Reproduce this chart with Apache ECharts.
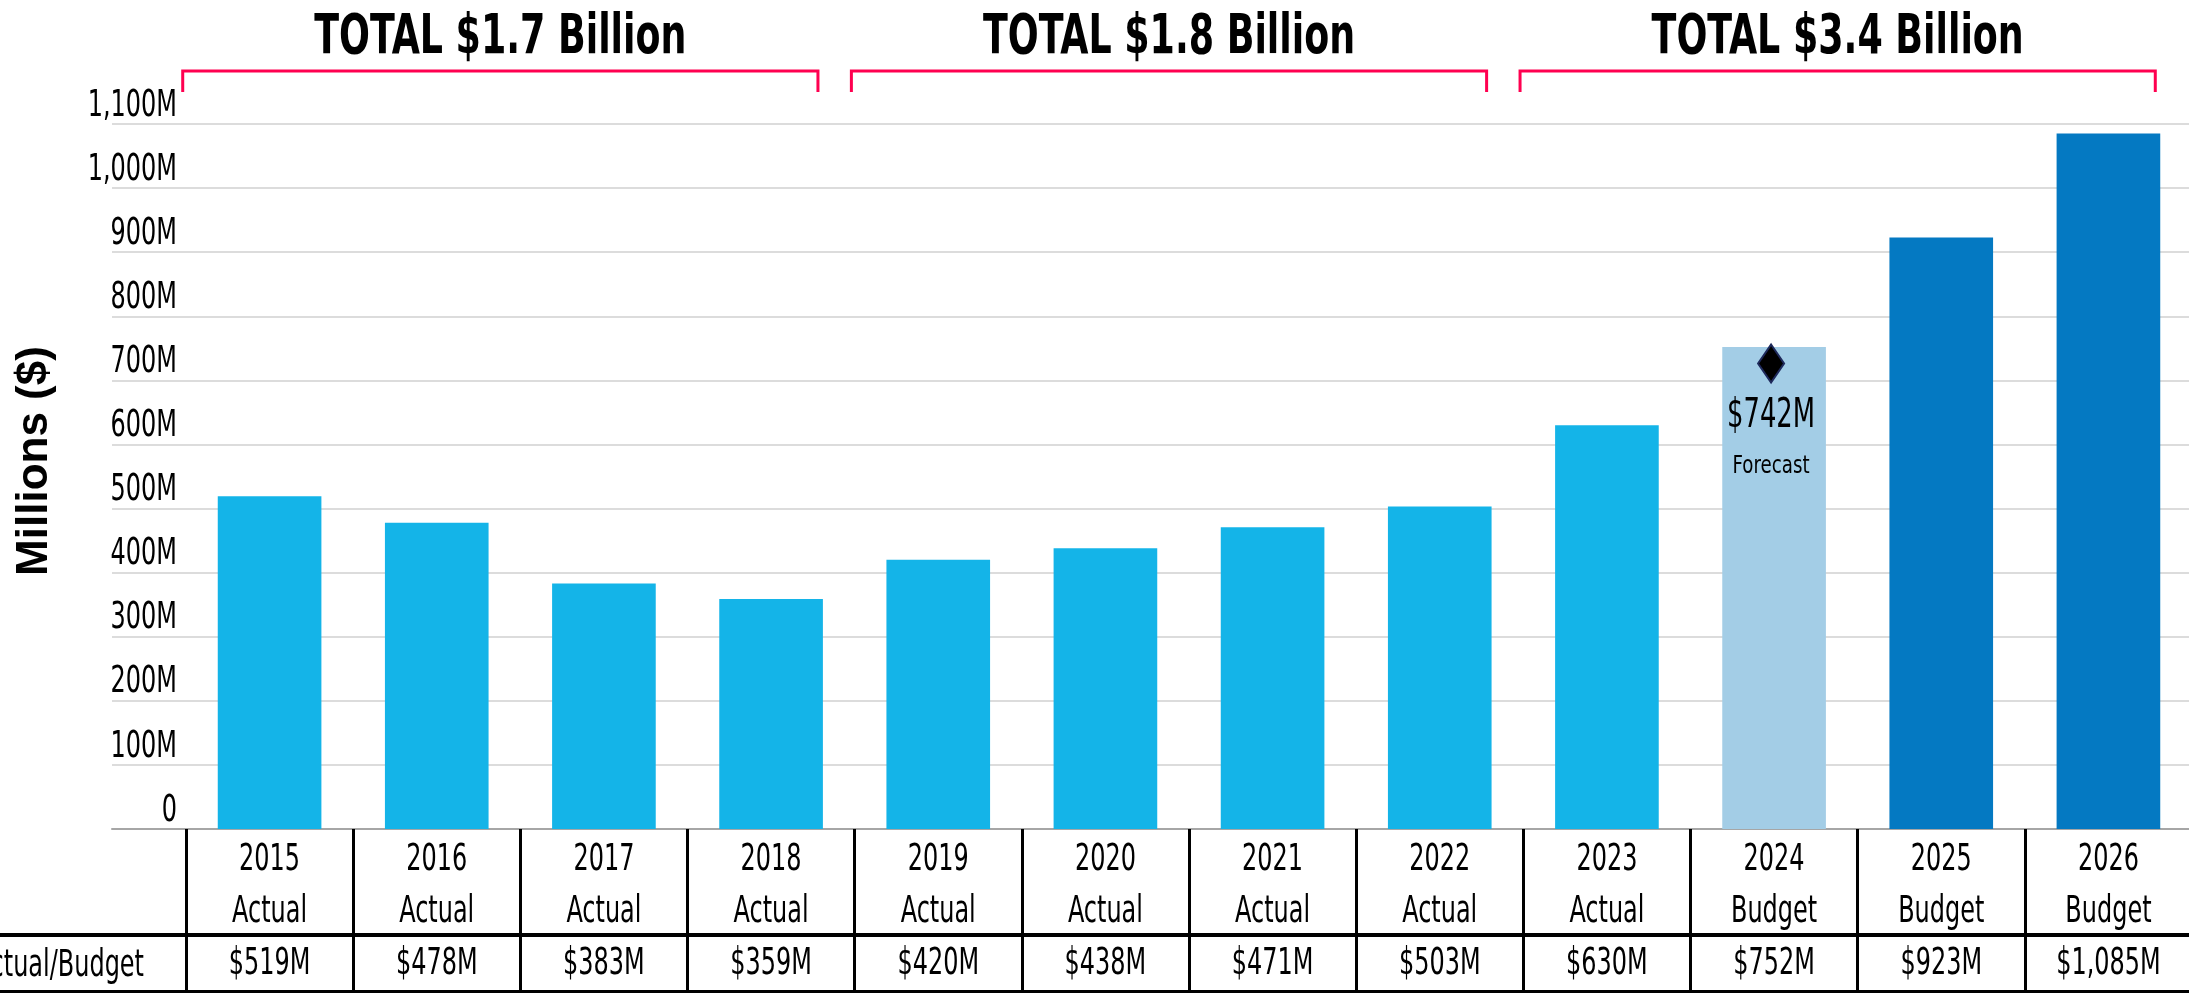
<!DOCTYPE html>
<html>
<head>
<meta charset="utf-8">
<script src="https://cdn.jsdelivr.net/npm/echarts@6/dist/echarts.min.js"></script>
<style>
html, body { margin: 0; padding: 0; background: #fff; }
#main { width: 2189px; height: 994px; }
</style>
</head>
<body>
<div id="main"></div>
<script>
var years = ['2015', '2016', '2017', '2018', '2019', '2020', '2021', '2022', '2023', '2024', '2025', '2026'];
var types = ['Actual', 'Actual', 'Actual', 'Actual', 'Actual', 'Actual', 'Actual', 'Actual', 'Actual', 'Budget', 'Budget', 'Budget'];
var values = [519, 478, 383, 359, 420, 438, 471, 503, 630, 752, 923, 1085];
var forecast = [null, null, null, null, null, null, null, null, null, 742, null, null];
var forecastLabel = 'Forecast';
var yTicks = [0, 100, 200, 300, 400, 500, 600, 700, 800, 900, 1000, 1100];
var groupLabels = ['TOTAL $1.7 Billion', 'TOTAL $1.8 Billion', 'TOTAL $3.4 Billion'];
var groupStart = [0, 4, 8];
var groupEnd = [3, 7, 11];
var rowHeader = 'Actual/Budget';
var yAxisName = 'Millions ($)';

// no condensed web font here, so squeeze DejaVu Condensed with scaleX
var cond = '"DejaVu Sans Condensed", "DejaVu Sans", sans-serif';
var squeeze = 0.72;

function money(v) {
	return '$' + v.toLocaleString('en-US') + 'M';
}

function barColor(i) {
	if (forecast[i] != null) return '#A3CDE6';
	if (types[i] === 'Budget') return '#0479C2';
	return '#14B4E8';
}

function condText(t, x, y, size, sx, align) {
	return {
		type: 'text', x: x, y: y, scaleX: sx,
		style: { text: t, font: size + 'px ' + cond, fill: '#000', align: align || 'center', verticalAlign: 'middle' }
	};
}

var chart = echarts.init(document.getElementById('main'));

option = {
	animation: false,
	grid: [
		{ left: 112, top: 124, width: 2084, height: 705, outerBoundsMode: 'none' },
		{ left: 186, top: 124, width: 2006, height: 705, outerBoundsMode: 'none' }
	],
	xAxis: [
		{
			gridIndex: 0, type: 'value', min: 0, max: 1,
			axisLabel: { show: false }, splitLine: { show: false }, axisTick: { show: false },
			axisLine: { show: true, lineStyle: { color: '#A6A6A6', width: 2 } }
		},
		{
			gridIndex: 1, type: 'category', data: years,
			axisLine: { show: false },
			axisTick: { show: true, length: 163, lineStyle: { color: '#000', width: 3 } },
			axisLabel: { show: false }
		}
	],
	yAxis: [
		{
			gridIndex: 0, type: 'value', min: 0, max: 1100, interval: 100,
			axisLine: { show: false }, axisTick: { show: false }, axisLabel: { show: false },
			splitLine: { lineStyle: { color: '#DCDCDC', width: 2 } }
		},
		{ gridIndex: 1, type: 'value', min: 0, max: 1100, interval: 100, show: false }
	],
	graphic: [
		{ type: 'rect', shape: { x: 0, y: 933, width: 2189, height: 4 }, style: { fill: '#000' } },
		{ type: 'rect', shape: { x: 0, y: 990, width: 2189, height: 3 }, style: { fill: '#000' } },
		condText(rowHeader, 144, 966, 37, squeeze, 'right'),
		{
			type: 'text', x: 35, y: 461, rotation: Math.PI / 2,
			style: { text: yAxisName, font: 'bold 44px "Liberation Sans", sans-serif', fill: '#000', align: 'center', verticalAlign: 'middle' }
		}
	],
	series: [
		{
			type: 'bar', xAxisIndex: 1, yAxisIndex: 1, barWidth: '62%',
			data: values.map(function (v, i) { return { value: v, itemStyle: { color: barColor(i) } }; })
		},
		// y tick labels, sitting above their gridlines
		{
			type: 'custom', xAxisIndex: 0, yAxisIndex: 0, silent: true, z: 5,
			data: yTicks.map(function (v) { return [0, v]; }),
			renderItem: function (params, api) {
				var v = api.value(1);
				var p = api.coord([0, v]);
				var t = v === 0 ? '0' : v.toLocaleString('en-US') + 'M';
				return condText(t, params.coordSys.x + 65, p[1] - 18, 37, squeeze, 'right');
			}
		},
		// data table under the axis
		{
			type: 'custom', xAxisIndex: 1, yAxisIndex: 1, silent: true, z: 5,
			data: years.map(function (y, i) { return [i, 0]; }),
			renderItem: function (params, api) {
				var i = api.value(0);
				var x = api.coord([i, 0])[0];
				var base = params.coordSys.y + params.coordSys.height;
				return {
					type: 'group',
					children: [
						condText(years[i], x, base + 31, 37, squeeze),
						condText(types[i], x, base + 83, 37, squeeze),
						condText(money(values[i]), x, base + 135, 37, squeeze)
					]
				};
			}
		},
		// forecast diamond + label
		{
			type: 'custom', xAxisIndex: 1, yAxisIndex: 1, silent: true, z: 5,
			data: forecast.map(function (v, i) { return [i, v]; }).filter(function (d) { return d[1] != null; }),
			renderItem: function (params, api) {
				var v = api.value(1);
				var p = api.coord([api.value(0), v]);
				var x = p[0] - 3, y = p[1] + 10;
				return {
					type: 'group',
					children: [
						{
							type: 'polygon',
							shape: { points: [[x, y - 19], [x + 13, y], [x, y + 19], [x - 13, y]] },
							style: { fill: '#000', stroke: '#1F2A5C', lineWidth: 2 }
						},
						condText(money(v), x, p[1] + 63, 41, 0.70),
						condText(forecastLabel, x, p[1] + 113, 25, 0.81)
					]
				};
			}
		},
		// group brackets with totals
		{
			type: 'custom', xAxisIndex: 1, yAxisIndex: 1, silent: true, z: 5,
			data: groupStart.map(function (s, i) { return [s, groupEnd[i], i]; }),
			renderItem: function (params, api) {
				var band = api.size([1, 0])[0];
				var x0 = api.coord([api.value(0), 0])[0] - band / 2;
				var x1 = api.coord([api.value(1), 0])[0] + band / 2;
				var w = (x1 - x0) * 0.95;
				var cx = (x0 + x1) / 2 - 20;
				var l = cx - w / 2, r = cx + w / 2;
				var top = params.coordSys.y - 53;
				return {
					type: 'group',
					children: [
						{
							type: 'polyline',
							shape: { points: [[l, top + 21], [l, top], [r, top], [r, top + 21]] },
							style: { stroke: '#FF0050', lineWidth: 3, fill: null }
						},
						{
							type: 'text', x: cx, y: top - 32, scaleX: 0.735,
							style: { text: groupLabels[api.value(2)], font: 'bold 55px ' + cond, fill: '#000', align: 'center', verticalAlign: 'middle' }
						}
					]
				};
			}
		}
	]
};

chart.setOption(option);
</script>
</body>
</html>
